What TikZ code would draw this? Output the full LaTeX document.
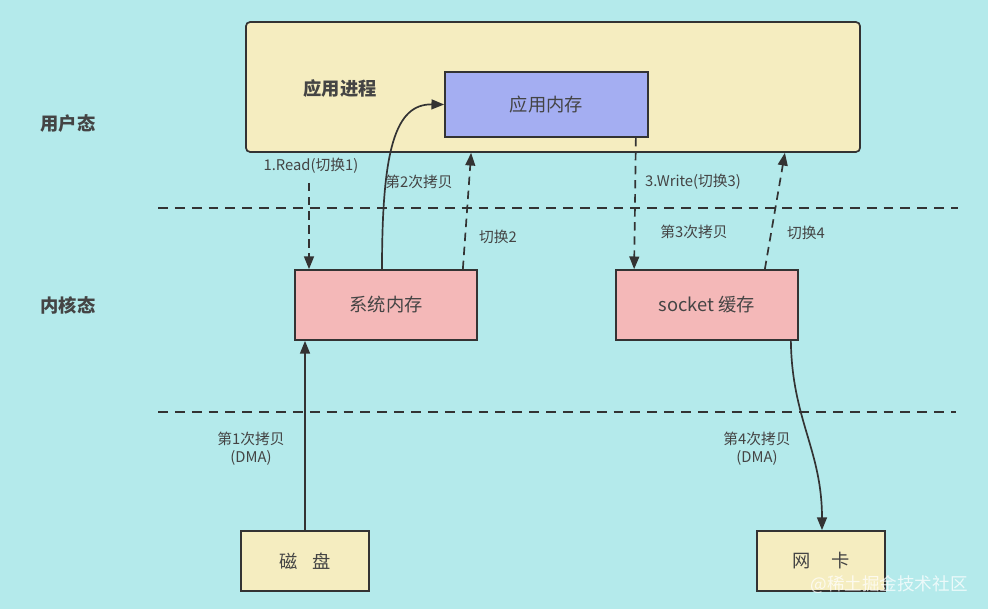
\documentclass[tikz,border=0pt]{standalone}
\usepackage{fontspec}
\setmainfont{Noto Sans CJK SC}
\usetikzlibrary{arrows.meta}
\definecolor{bgcyan}{RGB}{180,234,235}
\definecolor{proccream}{RGB}{245,237,192}
\definecolor{memblue}{RGB}{164,174,242}
\definecolor{kernpink}{RGB}{244,184,184}
\definecolor{inkgray}{RGB}{51,51,51}
\definecolor{textgray}{RGB}{68,68,68}
\begin{document}
\begin{tikzpicture}[
    x=0.025cm, y=-0.025cm,
    every node/.style={text=textgray},
    box/.style={draw=inkgray, line width=1.2pt, inner sep=0pt, font=\fontsize{13}{15}\selectfont},
    lbl/.style={font=\fontsize{10.5}{13}\selectfont, align=center},
    zone/.style={font=\fontsize{13}{15}\selectfont\bfseries},
    divider/.style={draw=inkgray, line width=1.2pt, dash pattern=on 7pt off 5pt},
    dasharrow/.style={draw=inkgray, line width=1.2pt, dash pattern=on 6pt off 4pt, -{Triangle[length=9pt,width=7pt]}},
    solidarrow/.style={draw=inkgray, line width=1.2pt, -{Triangle[length=9pt,width=7pt]}}
  ]
  \fill[bgcyan] (0,0) rectangle (988,609);
  \useasboundingbox (0,0) rectangle (988,609);

  \node[box, fill=proccream, rounded corners=3pt, minimum width=15.35cm, minimum height=3.25cm] (proc) at (553,87) {};
  \node[zone] (proclbl) at (340,89) {应用进程};
  \node[box, fill=memblue, minimum width=5.075cm, minimum height=1.625cm] (appmem) at (546.5,104.5) {应用内存};

  \node[zone] (userzone) at (68,124) {用户态};
  \node[zone] (kernzone) at (68,305) {内核态};

  \draw[divider] (158,208) -- (958,208);
  \draw[divider] (158,412) -- (956,412);

  \node[box, fill=kernpink, minimum width=4.55cm, minimum height=1.75cm] (sysmem) at (386,305) {系统内存};
  \node[box, fill=kernpink, minimum width=4.55cm, minimum height=1.75cm] (sockbuf) at (707,305) {socket 缓存};
  \node[box, fill=proccream, minimum width=3.2cm, minimum height=1.5cm] (disk) at (305,561) {磁\hspace{0.8em}盘};
  \node[box, fill=proccream, minimum width=3.2cm, minimum height=1.5cm] (nic) at (821,561) {网\hspace{1.1em}卡};

  \coordinate (readtop) at (309,183);
  \draw[dasharrow] (readtop) -- (readtop |- sysmem.north);
  \draw[solidarrow] ([xshift=-0.1cm]sysmem.north) .. controls (382,150) and (395,104) .. (appmem.west);
  \draw[dasharrow] ([xshift=-0.375cm]sysmem.north east) -- ([xshift=5.65cm]proc.south west);
  \draw[dasharrow] ([xshift=-0.325cm]appmem.south east) -- ([xshift=0.475cm]sockbuf.north west);
  \draw[dasharrow] ([xshift=-0.85cm]sockbuf.north east) -- ([xshift=-1.9cm]proc.south east);
  \draw[solidarrow] (disk.north) -- (disk.north |- sysmem.south);
  \draw[solidarrow] ([xshift=-0.2cm]sockbuf.south east) .. controls (792,420) and (822,450) .. ([xshift=0.025cm]nic.north);

  \node[lbl] (readlbl) at (311,166) {1.Read(切换1)};
  \node[lbl] (copy2lbl) at (419,182) {第2次拷贝};
  \node[lbl] (switch2lbl) at (498,237) {切换2};
  \node[lbl] (writelbl) at (693,182) {3.Write(切换3)};
  \node[lbl] (copy3lbl) at (694,232) {第3次拷贝};
  \node[lbl] (switch4lbl) at (806,233) {切换4};
  \node[lbl] (copy1lbl) at (251,449) {第1次拷贝\\(DMA)};
  \node[lbl] (copy4lbl) at (757,449) {第4次拷贝\\(DMA)};

  \node[text=white, opacity=0.75, font=\fontsize{12.5}{15}\selectfont] (mark) at (889,585) {@稀土掘金技术社区};
\end{tikzpicture}
\end{document}
